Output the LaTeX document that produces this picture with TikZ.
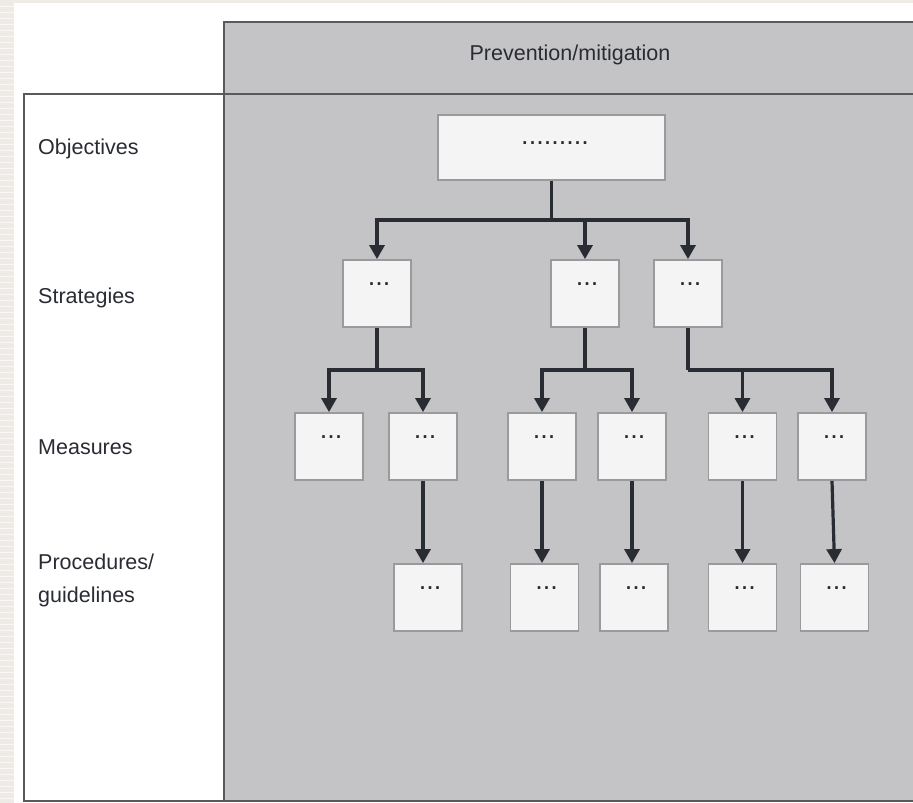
\documentclass[tikz,border=0pt]{standalone}
\usepackage{fontspec}
\setmainfont{Liberation Sans}
\usetikzlibrary{arrows.meta}
\definecolor{pagebeige}{HTML}{EEEBE6}
\definecolor{panelgray}{HTML}{C4C4C6}
\definecolor{boxfill}{HTML}{F4F4F4}
\definecolor{boxline}{HTML}{9A9A9C}
\definecolor{rule}{HTML}{5A5A5E}
\definecolor{ink}{HTML}{2A2C34}
\begin{document}
\begin{tikzpicture}[x=1pt,y=-1pt,
  every node/.style={font=\fontsize{21.5}{25}\selectfont, text=ink},
  rowlabel/.style={anchor=base west, inner sep=0pt},
  card/.style={draw=boxline, line width=1.8pt, fill=boxfill, minimum width=68pt, minimum height=67pt, inner sep=0pt},
  dots/.style={anchor=base, inner sep=0pt, font=\fontsize{27}{29}\selectfont},
  link/.style={draw=ink, line width=3.2pt, -{Triangle[length=14pt,width=15pt]}},
  trunk/.style={draw=ink, line width=3.4pt}]
\useasboundingbox (0,0) rectangle (913,803);
% page margins and white sheet
\fill[pagebeige] (0,0) rectangle (913,803);
\foreach \yy in {6,12,...,800} \draw[white!60!pagebeige, line width=0.5pt] (0,\yy) -- (14,\yy);
\fill[white] (14,3) rectangle (913,803);
% grey panel of the prevention column
\fill[panelgray] (224,22) rectangle (913,801);
% table rules
\draw[rule, line width=1.8pt] (913,22) -- (224,22) -- (224,801);
\draw[rule, line width=1.8pt] (913,94) -- (24,94) -- (24,801) -- (913,801);

% headings
\node[anchor=base, inner sep=0pt] (head) at (570,60) {Prevention/mitigation};
\node[rowlabel] (lobj) at (38,154) {Objectives};
\node[rowlabel] (lstr) at (38,303) {Strategies};
\node[rowlabel] (lmea) at (38,454) {Measures};
\node[rowlabel, align=left] (lpro) at (38,602) {Procedures/\\[8pt]guidelines};

% objective
\node[card, minimum width=227pt, minimum height=65pt] (obj) at (551.5,147.5) {};
\node[dots] at (555,144.5) {.........};
% strategies
\node[card] (s1) at (377,293.5) {};
\node[card] (s2) at (585,293.5) {};
\node[card] (s3) at (688,293.5) {};
% measures
\node[card] (m1) at (329,446.5) {};
\node[card] (m2) at (423,446.5) {};
\node[card] (m3) at (542,446.5) {};
\node[card] (m4) at (632,446.5) {};
\node[card] (m5) at (742.5,446.5) {};
\node[card] (m6) at (832,446.5) {};
% procedures / guidelines
\node[card] (p1) at (428,597.5) {};
\node[card] (p2) at (544.5,597.5) {};
\node[card] (p3) at (634,597.5) {};
\node[card] (p4) at (742.5,597.5) {};
\node[card] (p5) at (834.5,597.5) {};

% ellipsis marks inside the cards
\foreach \n in {s1,s2,s3,m1,m2,m3,m4,m5,m6,p1,p2,p3,p4,p5}
  \node[dots] at ([xshift=2pt,yshift=-26pt]\n.north) {...};

% connectors: objective to strategies
\coordinate (j0) at (obj.south |- 0,220);
\draw[trunk] (obj.south) -- (j0);
\draw[link] (j0) -| (s1.north);
\draw[link] (j0) -| (s2.north);
\draw[link] (j0) -| (s3.north);
% strategies to measures
\coordinate (j1) at (s1.south |- 0,370);
\draw[trunk] (s1.south) -- (j1);
\draw[link] (j1) -| (m1.north);
\draw[link] (j1) -| (m2.north);
\coordinate (j2) at (s2.south |- 0,370);
\draw[trunk] (s2.south) -- (j2);
\draw[link] (j2) -| (m3.north);
\draw[link] (j2) -| (m4.north);
\coordinate (j3) at (s3.south |- 0,370);
\draw[trunk] (s3.south) -- (j3);
\draw[link] (j3) -| (m5.north);
\draw[link] (j3) -| (m6.north);
% measures to procedures
\draw[link] (m2.south) -- (m2.south |- p1.north);
\draw[link] (m3.south) -- (m3.south |- p2.north);
\draw[link] (m4.south) -- (m4.south |- p3.north);
\draw[link] (m5.south) -- (m5.south |- p4.north);
\draw[link] (m6.south) -- (p5.north);
\end{tikzpicture}
\end{document}
